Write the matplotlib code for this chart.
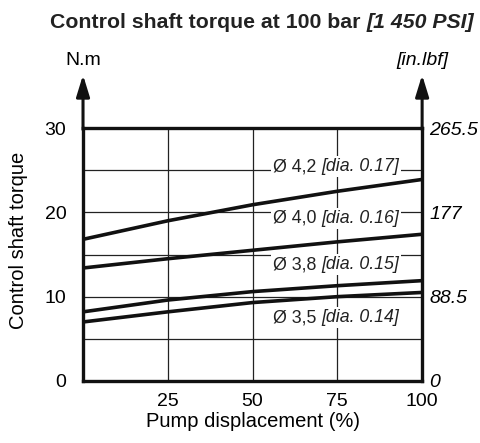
import numpy as np
import matplotlib.pyplot as plt
from matplotlib.offsetbox import TextArea, HPacker, AnnotationBbox

plt.rcParams['font.family'] = ['Liberation Sans', 'DejaVu Sans']

# pump displacement (%) and torque (N.m) for each control shaft diameter
displacement = [0, 25, 50, 75, 100]
torque_42 = [16.8, 19.0, 20.9, 22.5, 23.9]
torque_40 = [13.4, 14.5, 15.5, 16.5, 17.4]
torque_38 = [8.2, 9.6, 10.6, 11.3, 11.9]
torque_35 = [7.0, 8.2, 9.3, 10.0, 10.5]

diam_mm = ['Ø 4,2', 'Ø 4,0', 'Ø 3,8', 'Ø 3,5']
diam_in = ['[dia. 0.17]', '[dia. 0.16]', '[dia. 0.15]', '[dia. 0.14]']
label_y = [25.4, 19.3, 13.8, 7.5]

left_ticks = [0, 10, 20, 30]
right_ticks = [0, 88.5, 177, 265.5]
right_labels = ['0', '88.5', '177', '265.5']
x_ticks = [25, 50, 75, 100]

fig = plt.figure(figsize=(4.81, 4.43), dpi=100)
ax = fig.add_axes([0.1726, 0.140, 0.705, 0.571])

ax.set_xlim(0, 100)
ax.set_ylim(0, 30)

# thin grid
for gx in [25, 50, 75]:
    ax.axvline(gx, color='#222222', lw=0.9, zorder=1)
for gy in [5, 10, 15, 20, 25]:
    ax.axhline(gy, color='#222222', lw=0.9, zorder=1)

for series in [torque_42, torque_40, torque_38, torque_35]:
    ax.plot(displacement, series, color='#111111', lw=2.6, zorder=4,
            solid_capstyle='butt')


def mixed_label(parts, size, weight='normal'):
    boxes = [TextArea(txt, textprops=dict(fontsize=size, fontstyle=st,
                                          fontweight=weight, color='#222222'))
             for txt, st in parts]
    return HPacker(children=boxes, align='baseline', pad=0, sep=0)


# curve labels sit on white patches that break the grid
for mm, inch, yy in zip(diam_mm, diam_in, label_y):
    box = mixed_label([(mm + ' ', 'normal'), (inch, 'italic')], 12.8)
    ab = AnnotationBbox(box, (74.5, yy), xycoords='data', frameon=True,
                        box_alignment=(0.5, 0.5), pad=0.15, zorder=3,
                        bboxprops=dict(facecolor='white', edgecolor='none'))
    ax.add_artist(ab)

for side in ['left', 'right', 'top', 'bottom']:
    ax.spines[side].set_linewidth(2.4)
    ax.spines[side].set_color('#111111')

ax.set_xticks(x_ticks)
ax.set_yticks(left_ticks)
ax.tick_params(axis='y', length=0, labelsize=14, pad=12)
ax.tick_params(axis='x', length=0, labelsize=14, pad=9)
ax.set_xlabel('Pump displacement (%)', fontsize=14.5, labelpad=1)

fig.text(18.5 / 481, 1 - 240 / 443, 'Control shaft torque', rotation=90,
         ha='center', va='center', fontsize=14.5)

ax2 = ax.twinx()
ax2.set_ylim(0, 265.5)
ax2.set_yticks(right_ticks)
ax2.set_yticklabels(right_labels, fontstyle='italic')
ax2.tick_params(length=0, labelsize=14, pad=5)
for side in ['left', 'right', 'top', 'bottom']:
    ax2.spines[side].set_visible(False)

# axis arrows above the frame
for xa in [0, 100]:
    ax.annotate('', xy=(xa, 36.3), xytext=(xa, 29.8), annotation_clip=False,
                arrowprops=dict(arrowstyle='-|>,head_length=1.3,head_width=0.4',
                                lw=2.2, color='#111111', shrinkA=0, shrinkB=0))

ax.text(0, 38.0, 'N.m', ha='center', va='center', fontsize=14, clip_on=False)
ax.text(100, 38.0, '[in.lbf]', ha='center', va='center', fontsize=14,
        fontstyle='italic', clip_on=False)

title = mixed_label([('Control shaft torque at 100 bar ', 'normal'),
                     ('[1 450 PSI]', 'italic')], 15.3, weight='bold')
tb = AnnotationBbox(title, (0.545, 0.950), xycoords='figure fraction',
                    frameon=False, box_alignment=(0.5, 0.5), pad=0)
fig.add_artist(tb)

fig.savefig('out.png', dpi=100)
